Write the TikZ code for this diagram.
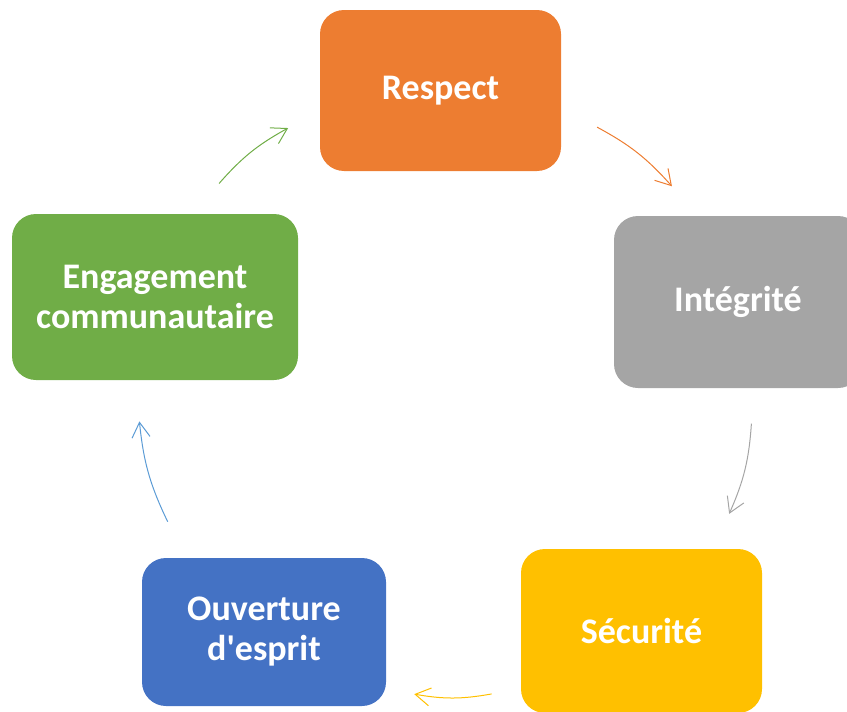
\documentclass[tikz,border=0pt]{standalone}
\usepackage{fontspec}
\setmainfont{Carlito}
\usetikzlibrary{positioning,arrows.meta}
\definecolor{respectcol}{HTML}{ED7D31}
\definecolor{integritecol}{HTML}{A5A5A5}
\definecolor{securitecol}{HTML}{FFC000}
\definecolor{ouverturecol}{HTML}{4472C4}
\definecolor{ouvertureline}{HTML}{5B9BD5}
\definecolor{engagementcol}{HTML}{70AD47}

\begin{document}
\begin{tikzpicture}[
		x=1pt, y=-1pt,
		stage/.style={rounded corners=24pt,inner sep=0pt,align=center,text=white,font=\fontsize{36}{40}\selectfont\bfseries},
		flow/.style={line width=1pt,-{Straight Barb[length=15pt,width=18pt]}}
		]
		\useasboundingbox (0,0) rectangle (847,712);
		\node[stage, fill=respectcol, minimum width=241pt, minimum height=161pt] (respect) at (440.5,90.5) {Respect};
		\node[stage, fill=integritecol, minimum width=248pt, minimum height=172pt] (integrite) at (738,302) {Intégrité};
		\node[stage, fill=securitecol, minimum width=241pt, minimum height=164pt] (securite) at (641.5,631) {Sécurité};
		\node[stage, fill=ouverturecol, minimum width=244pt, minimum height=148pt] (ouverture) at (264,632) {Ouverture\\d\textquotesingle esprit};
		\node[stage, fill=engagementcol, minimum width=286pt, minimum height=166pt] (engagement) at (155,297) {Engagement\\communautaire};
		% arrow ends picked on the cycle between two stages
		\path (respect.center) to[bend left=36] coordinate[pos=.41] (ri1) coordinate[pos=.665] (ri2) (integrite.center);
		\path (integrite.center) to[bend left=32] coordinate[pos=.33] (is1) coordinate[pos=.6] (is2) (securite.center);
		\path (securite.center) to[bend left=36] coordinate[pos=.40] (so1) coordinate[pos=.60] (so2) (ouverture.center);
		\path (ouverture.center) to[bend left=36] coordinate[pos=.385] (oe1) coordinate[pos=.674] (oe2) (engagement.center);
		\path (engagement.center) to[bend left=36] coordinate[pos=.34] (er1) coordinate[pos=.585] (er2) (respect.center);
		\draw[flow, respectcol] (ri1) to[bend left=10] (ri2);
		\draw[flow, integritecol] (is1) to[bend left=10] (is2);
		\draw[flow, securitecol] (so1) to[bend left=10] (so2);
		\draw[flow, ouvertureline] (oe1) to[bend left=10] (oe2);
		\draw[flow, engagementcol] (er1) to[bend left=10] (er2);
	\end{tikzpicture}
\end{document}
